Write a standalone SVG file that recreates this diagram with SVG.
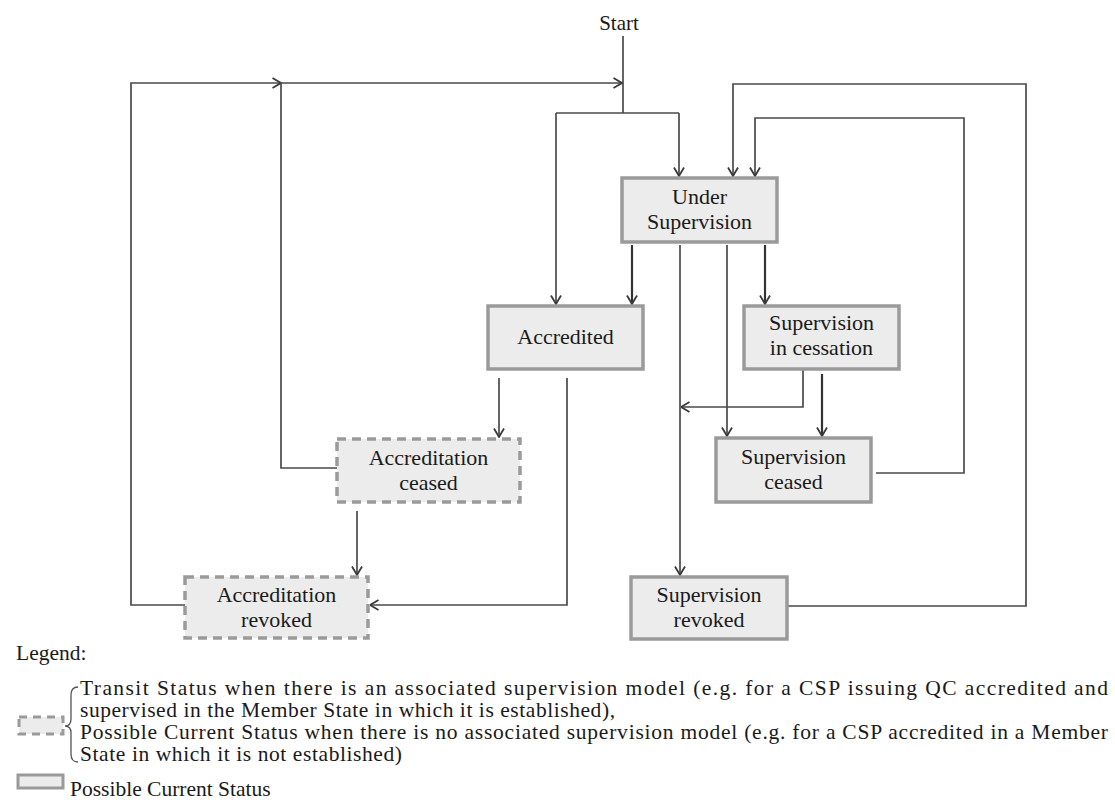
<svg xmlns="http://www.w3.org/2000/svg" width="1115" height="809" viewBox="0 0 1115 809">
<style>
text{font-family:"Liberation Serif","Times New Roman",serif;fill:#1a1a1a}
.lbl{font-size:22px;text-anchor:middle}
.leg{font-size:21.5px}
.box{fill:#ececec;stroke:#9a9a9a;stroke-width:3.5}
.dash{fill:#ececec;stroke:#9a9a9a;stroke-width:3.5;stroke-dasharray:9,6}
.c{fill:none;stroke:#4a4a4a;stroke-width:1.7;marker-end:url(#ah)}
.cn{fill:none;stroke:#4a4a4a;stroke-width:1.7}
.b{stroke:#333;stroke-width:2.2}
</style>
<defs>
<marker id="ah" viewBox="0 0 10 12" refX="9.5" refY="6" markerWidth="10" markerHeight="12" markerUnits="userSpaceOnUse" orient="auto">
<path d="M1,1 L9.5,6 L1,11" fill="none" stroke="#3a3a3a" stroke-width="1.8"/>
</marker>
</defs>
<rect width="1115" height="809" fill="#fff"/>
<text x="619" y="30" style="font-size:21px;text-anchor:middle">Start</text>
<g id="connectors">
<path class="cn" d="M623,36 V113"/>
<path class="cn" d="M556,113 H679"/>
<path class="c" d="M679,113 V176"/>
<path class="c" d="M556,113 V304"/>
<path class="c" d="M185,605 H131 V83 H281"/>
<path class="c" d="M337,468 H281 V83 H622"/>
<path class="c b" d="M632,245 V304"/>
<path class="c" d="M680,245 V575"/>
<path class="c" d="M727,245 V436"/>
<path class="c b" d="M765,245 V304"/>
<path class="c" d="M803,369 V407 H681"/>
<path class="c b" d="M822,374 V436"/>
<path class="c" d="M876,473 H964 V118 H755 V176"/>
<path class="c" d="M787,606 H1026 V84 H733 V176"/>
<path class="c" d="M499,378 V437"/>
<path class="c" d="M567,378 V605 H370"/>
<path class="c" d="M357,511 V575"/>
</g>
<g id="under-supervision">
<rect class="box" x="622" y="178" width="155" height="64"/>
<text class="lbl" x="699.5" y="204">Under</text>
<text class="lbl" x="699.5" y="229">Supervision</text>
</g>
<g id="accredited">
<rect class="box" x="488" y="306" width="155" height="63"/>
<text class="lbl" x="565.5" y="344">Accredited</text>
</g>
<g id="supervision-in-cessation">
<rect class="box" x="744" y="306" width="155" height="63"/>
<text class="lbl" x="821.5" y="330">Supervision</text>
<text class="lbl" x="821.5" y="355">in  cessation</text>
</g>
<g id="supervision-ceased">
<rect class="box" x="716" y="438" width="155" height="64"/>
<text class="lbl" x="793.5" y="464">Supervision</text>
<text class="lbl" x="793.5" y="489">ceased</text>
</g>
<g id="accreditation-ceased">
<rect class="dash" x="337" y="439" width="183" height="63"/>
<text class="lbl" x="428.5" y="465">Accreditation</text>
<text class="lbl" x="428.5" y="490">ceased</text>
</g>
<g id="accreditation-revoked">
<rect class="dash" x="185" y="577" width="183" height="61"/>
<text class="lbl" x="276.5" y="602">Accreditation</text>
<text class="lbl" x="276.5" y="627">revoked</text>
</g>
<g id="supervision-revoked">
<rect class="box" x="631" y="577" width="156" height="62"/>
<text class="lbl" x="709" y="602">Supervision</text>
<text class="lbl" x="709" y="627">revoked</text>
</g>
<g id="legend">
<text class="leg" x="16" y="660">Legend:</text>
<rect class="dash" x="19" y="717" width="44" height="17" style="stroke-width:3;stroke-dasharray:8,6"/>
<path d="M78,687 Q71,687 71,695 V719 Q71,726 65,726 Q71,726 71,733 V754 Q71,762 78,762" fill="none" stroke="#555" stroke-width="1.3"/>
<text class="leg" x="80" y="695" textLength="1028" lengthAdjust="spacing">Transit Status when there is an associated supervision model (e.g. for a CSP issuing QC accredited and</text>
<text class="leg" x="80" y="717" textLength="535" lengthAdjust="spacing">supervised in the Member State in which it is established),</text>
<text class="leg" x="80" y="739" textLength="1028" lengthAdjust="spacing">Possible Current Status when there is no associated supervision model (e.g. for a CSP accredited in a Member</text>
<text class="leg" x="80" y="761" textLength="322" lengthAdjust="spacing">State in which it is not established)</text>
<rect class="box" x="18" y="775" width="45" height="13" style="stroke-width:3"/>
<text class="leg" x="70" y="796">Possible Current Status</text>
</g>
</svg>
